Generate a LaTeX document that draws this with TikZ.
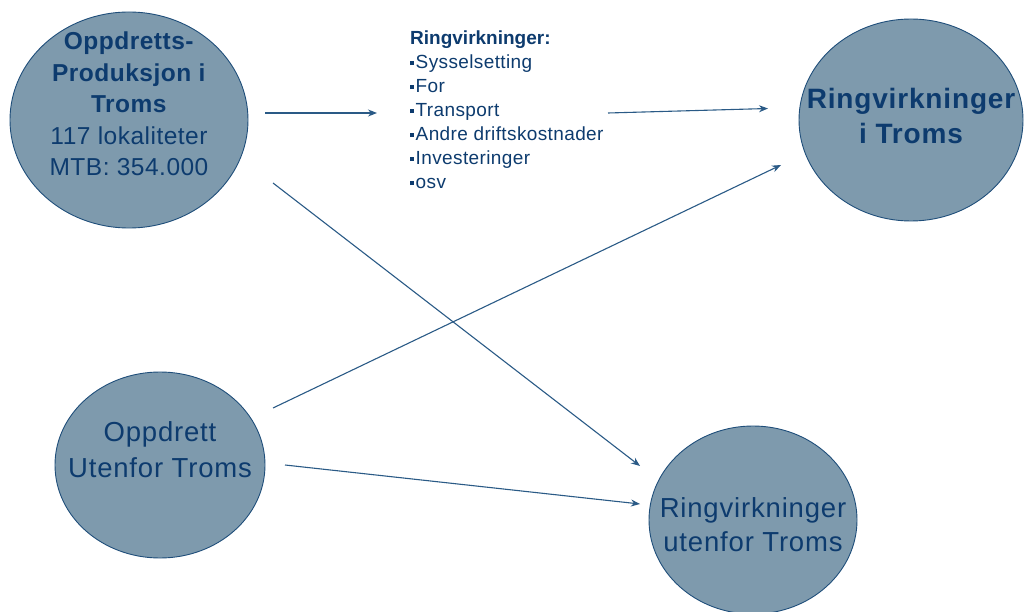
\documentclass[tikz,border=0pt]{standalone}
\usepackage{fontspec}
\setmainfont{Liberation Sans}
\newfontfamily\spA[LetterSpace=2]{Liberation Sans}
\newfontfamily\spB[LetterSpace=3]{Liberation Sans}
\usetikzlibrary{shapes.geometric,arrows.meta}
\definecolor{efill}{HTML}{7E9AAD}
\definecolor{eline}{HTML}{1F4E7A}
\definecolor{etext}{HTML}{0D3B6E}
\definecolor{aline}{HTML}{2A5A86}
\tikzset{
  blob/.style={ellipse, draw=eline, line width=0.9pt, fill=efill, inner sep=0pt},
  blobtext/.style={text=etext, align=center, inner sep=0pt},
  conn/.style={draw=aline, line width=1.1pt, -{Stealth[length=9pt,width=7pt]}},
}
\begin{document}
\begin{tikzpicture}[x=1pt,y=-1pt]
\useasboundingbox (0,0) rectangle (1024,612);
% ellipses
\node[blob, minimum width=238pt, minimum height=216pt] (e1) at (129,120) {};
\node[blob, minimum width=224pt, minimum height=202pt] (e2) at (911,120) {};
\node[blob, minimum width=210pt, minimum height=186pt] (e3) at (160,465) {};
\node[blob, minimum width=208pt, minimum height=188pt] (e4) at (753,520) {};
% texts
\node[blobtext, font=\spA\fontsize{24.5}{31.5}\selectfont] (t1) at (129,104)
  {\textbf{Oppdretts-}\\\textbf{Produksjon i}\\\textbf{Troms}\\117 lokaliteter\\MTB: 354.000};
\node[blobtext, font=\spB\fontsize{28}{35}\selectfont\bfseries] (t2) at (911,116)
  {Ringvirkninger\\i Troms};
\node[blobtext, font=\spB\fontsize{27.5}{36}\selectfont] (t3) at (160,450)
  {Oppdrett\\Utenfor Troms};
\node[blobtext, font=\spB\fontsize{27.5}{34}\selectfont] (t4) at (753,525)
  {Ringvirkninger\\utenfor Troms};
\newcommand{\bul}{\rule[0.2em]{4pt}{4pt}\hspace{1.5pt}}
\node[text=etext, align=left, inner sep=0pt, anchor=north west,
      font=\spA\fontsize{19}{24}\selectfont] (list) at (410,31)
  {{\rmfamily\bfseries Ringvirkninger:}\\\bul Sysselsetting\\\bul For\\\bul Transport\\\bul Andre driftskostnader\\\bul Investeringer\\\bul osv};
% connector end points
\coordinate (a1s) at (265,113); \coordinate (a1e) at (377,113);
\coordinate (a2s) at (608,113); \coordinate (a2e) at (768,108.5);
\coordinate (a3s) at (273,183); \coordinate (a3e) at (640,466);
\coordinate (a4s) at (273,408); \coordinate (a4e) at (781,165);
\coordinate (a5s) at (285,465); \coordinate (a5e) at (640,504);
\draw[conn] (a1s) -- (a1e);
\draw[conn] (a2s) -- (a2e);
\draw[conn] (a3s) -- (a3e);
\draw[conn] (a4s) -- (a4e);
\draw[conn] (a5s) -- (a5e);
\end{tikzpicture}
\end{document}
